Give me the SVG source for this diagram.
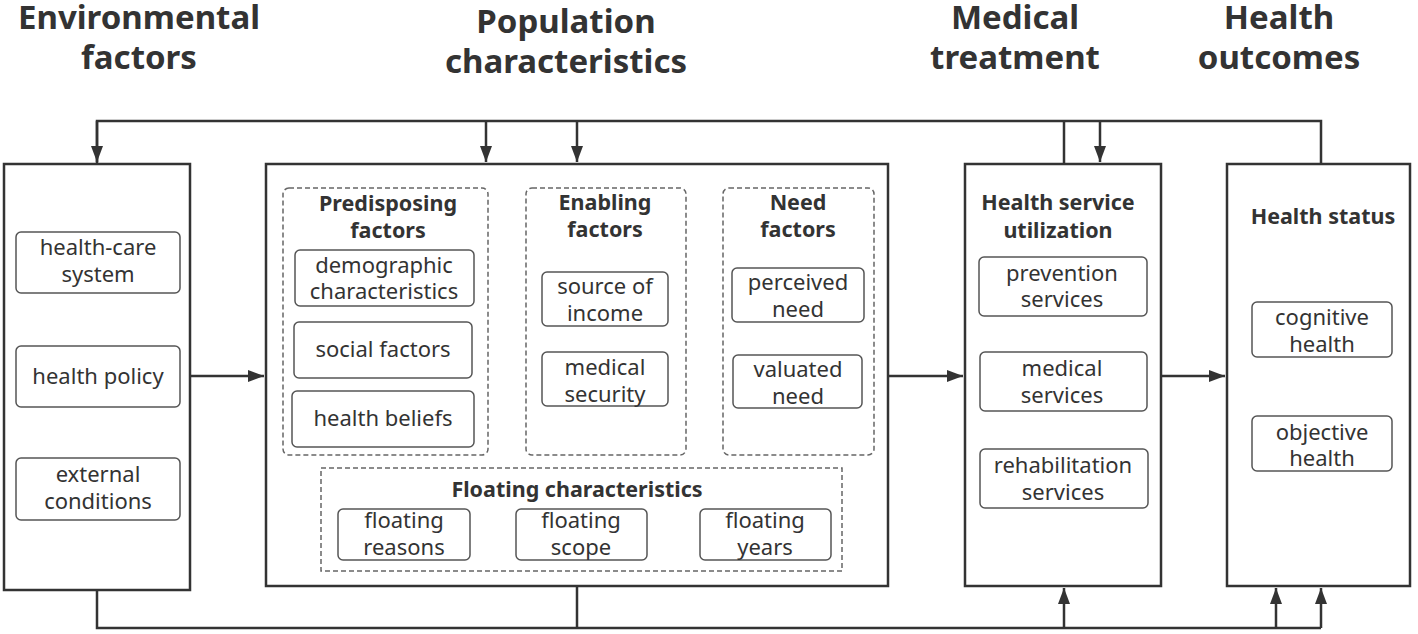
<svg xmlns="http://www.w3.org/2000/svg" width="1418" height="634" viewBox="0 0 1418 634">
<defs>
<style>
.t{font-family:"Noto Sans","Open Sans",sans-serif;fill:#333;text-anchor:middle}
.h1{font-size:33px;font-weight:bold}
.h2{font-size:21.5px;font-weight:bold}
.lb{font-size:22px}
.big{fill:#fff;stroke:#333;stroke-width:2.5}
.dash{fill:none;stroke:#666;stroke-width:1.5;stroke-dasharray:5 3}
.sm{fill:#fff;stroke:#555;stroke-width:1.5}
.c{fill:none;stroke:#333;stroke-width:2.5}
</style>
<marker id="ah" viewBox="0 0 16 12" refX="16" refY="6" markerWidth="16" markerHeight="12" markerUnits="userSpaceOnUse" orient="auto">
<path d="M0,0 L16,6 L0,12 z" fill="#333"/>
</marker>
</defs>
<rect width="1418" height="634" fill="#fff"/>

<g id="titles" class="t h1">
<text x="139" y="29">Environmental</text>
<text x="139" y="69">factors</text>
<text x="566" y="33">Population</text>
<text x="566" y="73">characteristics</text>
<text x="1015" y="29">Medical</text>
<text x="1015" y="69">treatment</text>
<text x="1279" y="29">Health</text>
<text x="1279" y="69">outcomes</text>
</g>

<g id="connectors">
<path class="c" d="M97,164 V121 H1321 V164"/>
<path class="c" d="M97,121 V162" marker-end="url(#ah)"/>
<path class="c" d="M486,121 V162" marker-end="url(#ah)"/>
<path class="c" d="M577,121 V162" marker-end="url(#ah)"/>
<path class="c" d="M1064,121 V164"/>
<path class="c" d="M1100,121 V162" marker-end="url(#ah)"/>
<path class="c" d="M97,590 V628 H1321"/>
<path class="c" d="M577,586 V628"/>
<path class="c" d="M1064,628 V588" marker-end="url(#ah)"/>
<path class="c" d="M1276,628 V588" marker-end="url(#ah)"/>
<path class="c" d="M1321,628 V588" marker-end="url(#ah)"/>
<path class="c" d="M190,376 H264" marker-end="url(#ah)"/>
<path class="c" d="M888,376 H963" marker-end="url(#ah)"/>
<path class="c" d="M1161,376 H1225" marker-end="url(#ah)"/>
<path class="c" d="M488,321 H524" marker-end="url(#ah)"/>
<path class="c" d="M686,321 H721" marker-end="url(#ah)"/>
</g>

<g id="environmental">
<rect class="big" x="4" y="164" width="186" height="426"/>
<rect class="sm" x="16" y="232" width="164" height="61" rx="5"/>
<text class="t lb" x="98" y="255">health-care</text>
<text class="t lb" x="98" y="282">system</text>
<rect class="sm" x="16" y="346" width="164" height="61" rx="5"/>
<text class="t lb" x="98" y="384">health policy</text>
<rect class="sm" x="16" y="458" width="164" height="62" rx="5"/>
<text class="t lb" x="98" y="482">external</text>
<text class="t lb" x="98" y="509">conditions</text>
</g>

<g id="population">
<rect class="big" x="266" y="164" width="622" height="422"/>
</g>

<g id="predisposing">
<rect class="dash" x="283" y="188" width="205" height="267" rx="6"/>
<text class="t h2" x="388" y="211">Predisposing</text>
<text class="t h2" x="388" y="238">factors</text>
<rect class="sm" x="295" y="250" width="179" height="56" rx="5"/>
<text class="t lb" x="384" y="273">demographic</text>
<text class="t lb" x="384" y="299">characteristics</text>
<rect class="sm" x="294" y="322" width="178" height="56" rx="5"/>
<text class="t lb" x="383" y="357">social factors</text>
<rect class="sm" x="292" y="391" width="182" height="56" rx="5"/>
<text class="t lb" x="383" y="426">health beliefs</text>
</g>

<g id="enabling">
<rect class="dash" x="526" y="188" width="160" height="267" rx="6"/>
<text class="t h2" x="605" y="210">Enabling</text>
<text class="t h2" x="605" y="237">factors</text>
<rect class="sm" x="542" y="272" width="126" height="54" rx="5"/>
<text class="t lb" x="605" y="294">source of</text>
<text class="t lb" x="605" y="321">income</text>
<rect class="sm" x="542" y="352" width="126" height="54" rx="5"/>
<text class="t lb" x="605" y="375">medical</text>
<text class="t lb" x="605" y="402">security</text>
</g>

<g id="need">
<rect class="dash" x="723" y="188" width="151" height="267" rx="6"/>
<text class="t h2" x="798" y="210">Need</text>
<text class="t h2" x="798" y="237">factors</text>
<rect class="sm" x="732" y="268" width="132" height="54" rx="5"/>
<text class="t lb" x="798" y="290">perceived</text>
<text class="t lb" x="798" y="317">need</text>
<rect class="sm" x="733" y="355" width="129" height="53" rx="5"/>
<text class="t lb" x="798" y="377">valuated</text>
<text class="t lb" x="798" y="404">need</text>
</g>

<g id="floating">
<rect class="dash" x="321" y="468" width="521" height="103"/>
<text class="t h2" x="577" y="497">Floating characteristics</text>
<rect class="sm" x="338" y="509" width="132" height="51" rx="5"/>
<text class="t lb" x="404" y="528">floating</text>
<text class="t lb" x="404" y="555">reasons</text>
<rect class="sm" x="516" y="509" width="131" height="51" rx="5"/>
<text class="t lb" x="581" y="528">floating</text>
<text class="t lb" x="581" y="555">scope</text>
<rect class="sm" x="700" y="509" width="131" height="51" rx="5"/>
<text class="t lb" x="765" y="528">floating</text>
<text class="t lb" x="765" y="555">years</text>
</g>

<g id="utilization">
<rect class="big" x="965" y="164" width="196" height="422"/>
<text class="t h2" x="1058" y="210">Health service</text>
<text class="t h2" x="1058" y="238">utilization</text>
<rect class="sm" x="979" y="257" width="168" height="59" rx="5"/>
<text class="t lb" x="1062" y="281">prevention</text>
<text class="t lb" x="1062" y="307">services</text>
<rect class="sm" x="980" y="352" width="167" height="59" rx="5"/>
<text class="t lb" x="1062" y="376">medical</text>
<text class="t lb" x="1062" y="403">services</text>
<rect class="sm" x="980" y="449" width="168" height="59" rx="5"/>
<text class="t lb" x="1063" y="473">rehabilitation</text>
<text class="t lb" x="1063" y="500">services</text>
</g>

<g id="status">
<rect class="big" x="1227" y="164" width="183" height="422"/>
<text class="t h2" x="1323" y="224">Health status</text>
<rect class="sm" x="1252" y="302" width="140" height="55" rx="5"/>
<text class="t lb" x="1322" y="325">cognitive</text>
<text class="t lb" x="1322" y="352">health</text>
<rect class="sm" x="1252" y="416" width="140" height="55" rx="5"/>
<text class="t lb" x="1322" y="440">objective</text>
<text class="t lb" x="1322" y="466">health</text>
</g>
</svg>
